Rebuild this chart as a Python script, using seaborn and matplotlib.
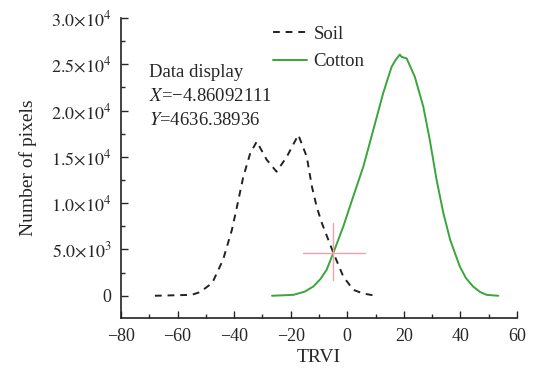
import numpy as np
import pandas as pd
import matplotlib
matplotlib.use("Agg")
import matplotlib.pyplot as plt
import matplotlib.ticker as mticker
import seaborn as sns

# histogram curves
soil_x = [-68, -55, -52, -47.7, -43.9, -40.8, -39, -36.8, -34.3, -32, -28.5, -25,
          -21.4, -17.3, -14.3, -12.5, -10.8, -9, -4.9, -1.4, 2.1, 5.5, 9.2]
soil_y = [0, 100, 400, 1400, 3900, 7100, 9600, 12800, 15400, 16650, 14700, 13400,
          15000, 17370, 15000, 11800, 9600, 7870, 4636, 2080, 650, 250, 50]

cotton_x = [-26.6, -19, -15, -12, -9.5, -7.3, -4.9, -1.4, 2.1, 5.7, 9.2, 12.7, 14.5,
            15.7, 17.2, 18.6, 19.2, 21, 23.9, 26.9, 29.2, 31.6, 34, 36.4, 39.8, 42,
            44.5, 47, 49.3, 53.4]
cotton_y = [0, 100, 450, 1000, 1800, 2800, 4636, 7480, 10700, 13950, 17900, 21870, 23600,
            24740, 25500, 26050, 25800, 25640, 23650, 20420, 16830, 12510, 8920, 6040, 3160, 1900,
            1000, 400, 100, 0]

display_x = -4.86092111
display_y = 4636.38936

df = pd.concat([
    pd.DataFrame({'TRVI': soil_x, 'count': soil_y, 'class': 'Soil'}),
    pd.DataFrame({'TRVI': cotton_x, 'count': cotton_y, 'class': 'Cotton'}),
])

sns.set_style("ticks")
plt.rcParams['font.family'] = ['Liberation Serif', 'DejaVu Serif']
plt.rcParams['mathtext.fontset'] = 'stix'

fig = plt.figure(figsize=(5.34, 3.71), dpi=100)
ax = fig.add_axes([0.2266, 0.1429, 0.7414, 0.8086])

sns.lineplot(data=df, x='TRVI', y='count', hue='class', style='class',
             palette={'Soil': '#222222', 'Cotton': '#3aa53a'},
             dashes={'Soil': (3.5, 3), 'Cotton': ''}, linewidth=1.4, ax=ax)

# data display crosshair
ax.plot([display_x - 10.7, display_x + 11], [display_y, display_y], color='#f4a0a8', lw=1.0)
ax.plot([display_x, display_x], [display_y - 2900, display_y + 3250], color='#f4a0a8', lw=1.0)

ax.set_xlim(-80, 60)
ax.set_ylim(-2400, 30000)
ax.xaxis.set_major_locator(mticker.MultipleLocator(20))
ax.xaxis.set_minor_locator(mticker.MultipleLocator(10))
ax.yaxis.set_major_locator(mticker.MultipleLocator(5000))
ax.yaxis.set_minor_locator(mticker.MultipleLocator(2500))


def yfmt(v, pos):
    if v == 0:
        return '0'
    e = int(np.floor(np.log10(abs(v))))
    return r'$%.1f{\times}10^{%d}$' % (v / 10 ** e, e)


ax.yaxis.set_major_formatter(mticker.FuncFormatter(yfmt))
ax.xaxis.set_major_formatter(mticker.FuncFormatter(lambda v, p: ('%d' % v).replace('-', '\u2212')))
ax.tick_params(which='major', direction='in', length=5, width=1, labelsize=13, pad=7)
ax.tick_params(which='minor', direction='in', length=3, width=1)
sns.despine(ax=ax)
for s in ['left', 'bottom']:
    ax.spines[s].set_linewidth(1.2)
    ax.spines[s].set_color('#222222')

ax.set_xlabel('TRVI', fontsize=14, labelpad=3)
ax.set_ylabel('Number of pixels', fontsize=14, labelpad=10)

ax.text(0.07, 0.845, 'Data display', transform=ax.transAxes, fontsize=13.5, va='top')
ax.text(0.07, 0.765, r'$X$=' + ('%.8f' % display_x).replace('-', '\u2212'),
        transform=ax.transAxes, fontsize=13.5, va='top')
ax.text(0.07, 0.685, r'$Y$=%.5f' % display_y, transform=ax.transAxes, fontsize=13.5, va='top')

leg = ax.legend(loc='upper left', bbox_to_anchor=(0.342, 1.03), frameon=False,
                fontsize=13.5, handlelength=1.8, handletextpad=0.35, labelspacing=0.55)

fig.savefig('out.png', dpi=100)
